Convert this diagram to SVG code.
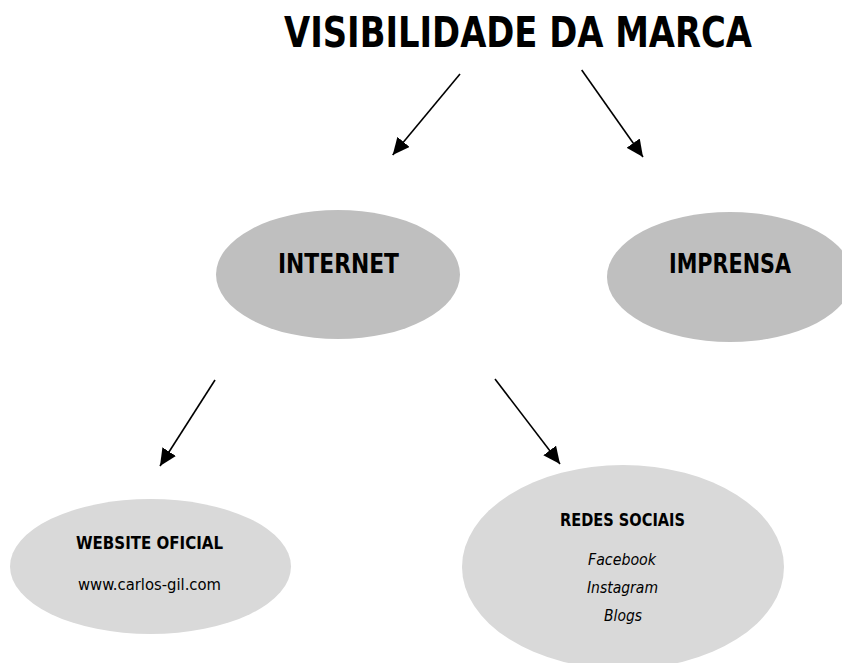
<svg xmlns="http://www.w3.org/2000/svg" width="842" height="663" viewBox="0 0 842 663">
<style>
text{font-family:"DejaVu Sans Condensed","DejaVu Sans",sans-serif;fill:#000;text-anchor:middle}
.b{font-weight:bold}
.i{font-style:italic}
.dark{fill:#bfbfbf}
.light{fill:#d9d9d9}
.conn line{stroke:#000;stroke-width:1.6;marker-end:url(#ah)}
</style>
<defs>
<marker id="ah" markerUnits="userSpaceOnUse" markerWidth="18" markerHeight="16" refX="17" refY="8" orient="auto">
<path d="M0,0 L17,8 L0,16 z" fill="#000"/>
</marker>
</defs>
<rect width="842" height="663" fill="#fff"/>
<g id="title">
<text class="b" x="518" y="47" font-size="43" textLength="468" lengthAdjust="spacingAndGlyphs">VISIBILIDADE DA MARCA</text>
</g>
<g class="conn" id="connectors">
<line x1="460" y1="74" x2="392.7" y2="155"/>
<line x1="581.7" y1="70" x2="643" y2="157"/>
<line x1="215" y1="380" x2="160" y2="466"/>
<line x1="495" y1="379" x2="560" y2="464"/>
</g>
<g id="internet">
<ellipse class="dark" cx="338" cy="274.5" rx="122" ry="64.5"/>
<text class="b" x="338.5" y="273" font-size="26" textLength="121" lengthAdjust="spacingAndGlyphs">INTERNET</text>
</g>
<g id="imprensa">
<ellipse class="dark" cx="730" cy="277" rx="123" ry="65"/>
<text class="b" x="730" y="273" font-size="26" textLength="122" lengthAdjust="spacingAndGlyphs">IMPRENSA</text>
</g>
<g id="website">
<ellipse class="light" cx="150.5" cy="566.5" rx="140.5" ry="67.5"/>
<text class="b" x="149.5" y="549" font-size="18" textLength="147" lengthAdjust="spacingAndGlyphs">WEBSITE OFICIAL</text>
<text x="149.5" y="590" font-size="16" textLength="143" lengthAdjust="spacingAndGlyphs">www.carlos-gil.com</text>
</g>
<g id="redes">
<ellipse class="light" cx="623" cy="567" rx="161" ry="102"/>
<text class="b" x="622.5" y="526" font-size="18" textLength="125" lengthAdjust="spacingAndGlyphs">REDES SOCIAIS</text>
<text class="i" x="622" y="565" font-size="16" textLength="68" lengthAdjust="spacingAndGlyphs">Facebook</text>
<text class="i" x="622.5" y="593" font-size="16" textLength="71" lengthAdjust="spacingAndGlyphs">Instagram</text>
<text class="i" x="623" y="621" font-size="16" textLength="38" lengthAdjust="spacingAndGlyphs">Blogs</text>
</g>
</svg>
